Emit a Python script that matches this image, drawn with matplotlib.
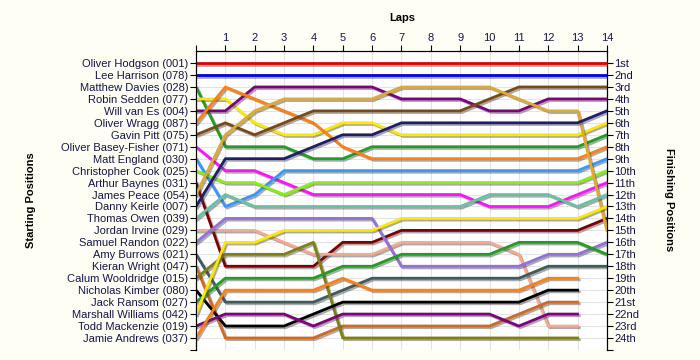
import matplotlib.pyplot as plt
import matplotlib.patheffects as pe

# starting order (top to bottom)
drivers = ['Oliver Hodgson (001)', 'Lee Harrison (078)', 'Matthew Davies (028)',
           'Robin Sedden (077)', 'Will van Es (004)', 'Oliver Wragg (087)',
           'Gavin Pitt (075)', 'Oliver Basey-Fisher (071)', 'Matt England (030)',
           'Christopher Cook (025)', 'Arthur Baynes (031)', 'James Peace (054)',
           'Danny Keirle (007)', 'Thomas Owen (039)', 'Jordan Irvine (029)',
           'Samuel Randon (022)', 'Amy Burrows (021)', 'Kieran Wright (047)',
           'Calum Wooldridge (015)', 'Nicholas Kimber (080)', 'Jack Ransom (027)',
           'Marshall Williams (042)', 'Todd Mackenzie (019)', 'Jamie Andrews (037)']

laps = list(range(15))
lap_labels = [''] + [str(i) for i in range(1, 15)]

finish_labels = ['1st', '2nd', '3rd', '4th', '5th', '6th', '7th', '8th', '9th', '10th',
                 '11th', '12th', '13th', '14th', '15th', '16th', '17th', '18th', '19th',
                 '20th', '21st', '22nd', '23rd', '24th']

# position of each driver at lap 0..14 (lapped drivers stop at lap 13)
positions = [
    [1, 1, 1, 1, 1, 1, 1, 1, 1, 1, 1, 1, 1, 1, 1],
    [2, 2, 2, 2, 2, 2, 2, 2, 2, 2, 2, 2, 2, 2, 2],
    [3, 8, 8, 8, 9, 9, 8, 8, 8, 8, 8, 8, 8, 8, 7],
    [4, 4, 6, 7, 7, 6, 6, 7, 7, 7, 7, 7, 7, 7, 6],
    [5, 5, 3, 3, 3, 3, 3, 4, 4, 4, 5, 5, 4, 4, 4],
    [6, 3, 4, 5, 6, 8, 9, 9, 9, 9, 9, 9, 9, 9, 8],
    [7, 6, 7, 6, 5, 5, 5, 5, 5, 5, 4, 3, 3, 3, 3],
    [8, 10, 10, 11, 12, 12, 12, 12, 12, 12, 13, 13, 13, 12, 11],
    [9, 13, 12, 10, 10, 10, 10, 10, 10, 10, 10, 10, 10, 10, 9],
    [10, 11, 11, 12, 11, 11, 11, 11, 11, 11, 11, 11, 11, 11, 10],
    [11, 18, 18, 18, 18, 16, 16, 15, 15, 15, 15, 15, 15, 15, 14],
    [12, 7, 5, 4, 4, 4, 4, 3, 3, 3, 3, 4, 5, 5, 15],
    [13, 9, 9, 9, 8, 7, 7, 6, 6, 6, 6, 6, 6, 6, 5],
    [14, 12, 13, 13, 13, 13, 13, 13, 13, 13, 12, 12, 12, 13, 12],
    [15, 15, 15, 16, 17, 17, 17, 16, 16, 16, 16, 17, 23, 23],
    [16, 14, 14, 14, 14, 14, 14, 18, 18, 18, 18, 18, 17, 17, 16],
    [17, 21, 21, 21, 21, 20, 19, 19, 19, 19, 19, 19, 18, 18, 18],
    [18, 24, 24, 24, 24, 23, 23, 23, 23, 23, 23, 22, 21, 21],
    [19, 17, 17, 17, 16, 24, 24, 24, 24, 24, 24, 24, 24, 24],
    [20, 23, 23, 23, 22, 21, 21, 21, 21, 21, 21, 21, 20, 20],
    [21, 19, 19, 19, 19, 18, 18, 17, 17, 17, 17, 16, 16, 16, 17],
    [22, 16, 16, 15, 15, 15, 15, 14, 14, 14, 14, 14, 14, 14, 13],
    [23, 22, 22, 22, 23, 22, 22, 22, 22, 22, 22, 23, 22, 22],
    [24, 20, 20, 20, 20, 19, 20, 20, 20, 20, 20, 20, 19, 19],
]

colors = ['#e00000', '#0000e0', '#1ea01e', '#ffe800', '#800080', '#ff8010',
          '#7b4a14', '#ff10ff', '#3399ff', '#88ee10', '#800000', '#e0aa30',
          '#1e1e6e', '#66c2a5', '#f8a88c', '#9370db', '#3e5c5c', '#d2691e',
          '#808010', '#000000', '#1ea01e', '#ffe800', '#800080', '#ff8010']

plt.rcParams['font.family'] = ['Liberation Sans', 'DejaVu Sans']
txt = '#15154a'

fig = plt.figure(figsize=(7, 3.6), dpi=100, facecolor='#fefef4')
ax = fig.add_axes([0.28, 0.028, 0.587, 0.83])
ax.set_facecolor('white')

shadow = [pe.SimpleLineShadow(offset=(1.2, -1.2), shadow_color='#444444', alpha=0.45), pe.Normal()]
for pos, c in zip(positions, colors):
    ax.plot(laps[:len(pos)], pos, color=c, lw=2, path_effects=shadow, zorder=3)

ax.set_xlim(0, 14)
ax.set_ylim(25, 0)
ax.xaxis.tick_top()
ax.set_xticks(laps)
ax.set_xticklabels(lap_labels, color=txt, fontsize=8)
ax.set_yticks(range(1, 26))
ax.set_yticklabels(drivers + [''], color=txt, fontsize=8)
ax.tick_params(axis='both', length=4, width=0.8, pad=1.5)
ax.grid(color='#e4e4e4', lw=0.8)
ax.set_axisbelow(True)
ax.spines['bottom'].set_visible(False)

ax2 = ax.twinx()
ax2.set_ylim(25, 0)
ax2.set_yticks(range(1, 26))
ax2.set_yticklabels(finish_labels + [''], color=txt, fontsize=8)
ax2.tick_params(axis='y', length=4, width=0.8, pad=1.5)
ax2.spines['bottom'].set_visible(False)

fig.text(0.575, 0.95, 'Laps', ha='center', va='center', fontsize=8, fontweight='bold')
fig.text(0.045, 0.445, 'Starting Positions', ha='center', va='center', rotation=90,
         fontsize=8, fontweight='bold')
fig.text(0.955, 0.445, 'Finishing Positions', ha='center', va='center', rotation=270,
         fontsize=8, fontweight='bold')

fig.savefig('out.png', dpi=100, facecolor=fig.get_facecolor())
